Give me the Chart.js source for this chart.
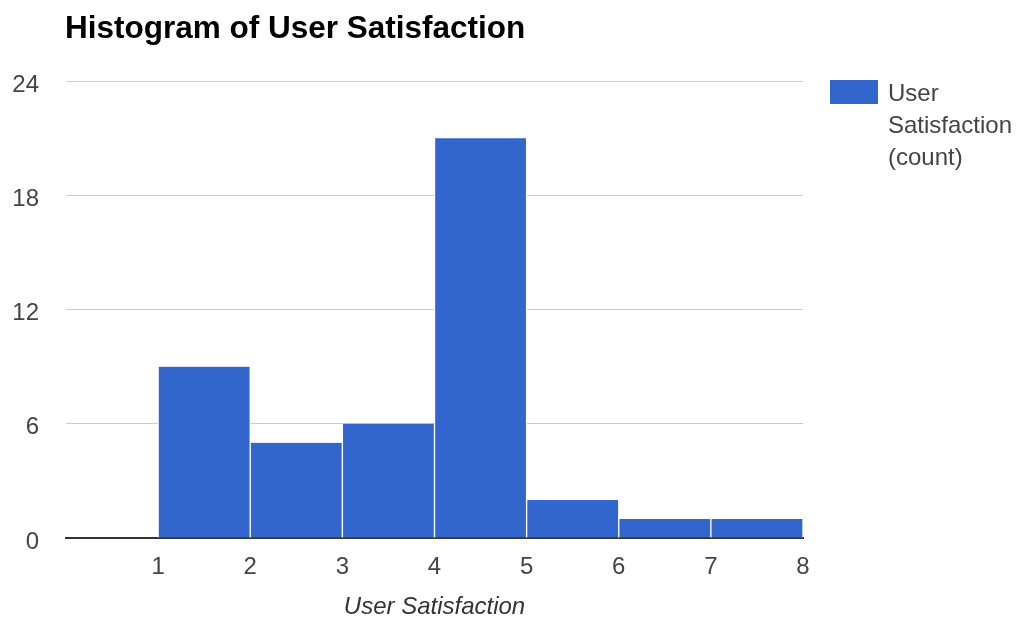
<!DOCTYPE html>
<html>
<head>
<meta charset="utf-8">
<script src="https://cdn.jsdelivr.net/npm/chart.js@4/dist/chart.umd.min.js"></script>
<style>
  html, body { margin: 0; padding: 0; background: #fff; }
  #wrap { width: 1018px; height: 622px; }
</style>
</head>
<body>
<div id="wrap"><canvas id="c" width="1018" height="622"></canvas></div>
<script>
// ---- data ----
const chartTitle = 'Histogram of User Satisfaction';
const seriesLabel = 'User Satisfaction (count)';
const legendLines = ['User', 'Satisfaction', '(count)'];
const axisTitle = 'User Satisfaction';
const binStarts = [1, 2, 3, 4, 5, 6, 7];
const binEnds = [2, 3, 4, 5, 6, 7, 8];
const counts = [9, 5, 6, 21, 2, 1, 1];
const xTickLabels = ['', '1', '2', '3', '4', '5', '6', '7', '8'];
const yTicks = [0, 6, 12, 18, 24];

const FONT = "Arial, 'Liberation Sans', Helvetica, sans-serif";
const BLUE = '#3366cc';

const points = binStarts.map((s, i) => ({ x: (s + binEnds[i]) / 2, y: counts[i] }));

const overlay = {
  id: 'overlay',
  afterDraw(chart) {
    const ctx = chart.ctx;
    ctx.save();
    // title
    ctx.fillStyle = '#000';
    ctx.font = 'bold 31.5px ' + FONT;
    ctx.textAlign = 'left';
    ctx.textBaseline = 'alphabetic';
    ctx.fillText(chartTitle, 65, 37.5);
    // legend
    ctx.fillStyle = BLUE;
    ctx.fillRect(830, 80, 48, 24);
    ctx.fillStyle = '#444';
    ctx.font = '24px ' + FONT;
    legendLines.forEach((t, i) => ctx.fillText(t, 888, 101 + i * 32));
    ctx.restore();
  }
};

new Chart(document.getElementById('c'), {
  type: 'bar',
  data: {
    datasets: [{
      label: seriesLabel,
      data: points,
      backgroundColor: BLUE,
      borderColor: '#ffffff',
      borderWidth: { left: 1, right: 1, top: 0, bottom: 0 },
      borderSkipped: false,
      barPercentage: 1,
      categoryPercentage: 1
    }]
  },
  options: {
    responsive: false,
    animation: false,
    events: [],
    layout: { padding: { left: 0, right: 215, top: 81, bottom: 0 } },
    plugins: {
      legend: { display: false },
      title: { display: false },
      tooltip: { enabled: false }
    },
    scales: {
      x: {
        type: 'linear',
        min: 0,
        max: 8,
        offset: false,
        grid: { display: false },
        border: { display: true, color: '#333', width: 2 },
        afterFit(scale) { scale.height = 84; },
        ticks: {
          stepSize: 1,
          autoSkip: false,
          maxRotation: 0,
          padding: 7,
          color: '#444',
          font: { family: FONT, size: 24 },
          callback: (v) => xTickLabels[v] ?? ''
        },
        title: {
          display: true,
          text: axisTitle,
          color: '#333',
          padding: { top: 0, bottom: 0 },
          font: { family: FONT, size: 24, style: 'italic' }
        }
      },
      y: {
        min: 0,
        max: 24,
        border: { display: false },
        grid: { color: '#cccccc', lineWidth: 1, drawTicks: false },
        afterFit(scale) { scale.width = 66; },
        afterBuildTicks(scale) { scale.ticks = yTicks.map(v => ({ value: v })); },
        ticks: {
          padding: 27,
          labelOffset: 4,
          color: '#444',
          font: { family: FONT, size: 24 }
        }
      }
    }
  },
  plugins: [overlay]
});
</script>
</body>
</html>
